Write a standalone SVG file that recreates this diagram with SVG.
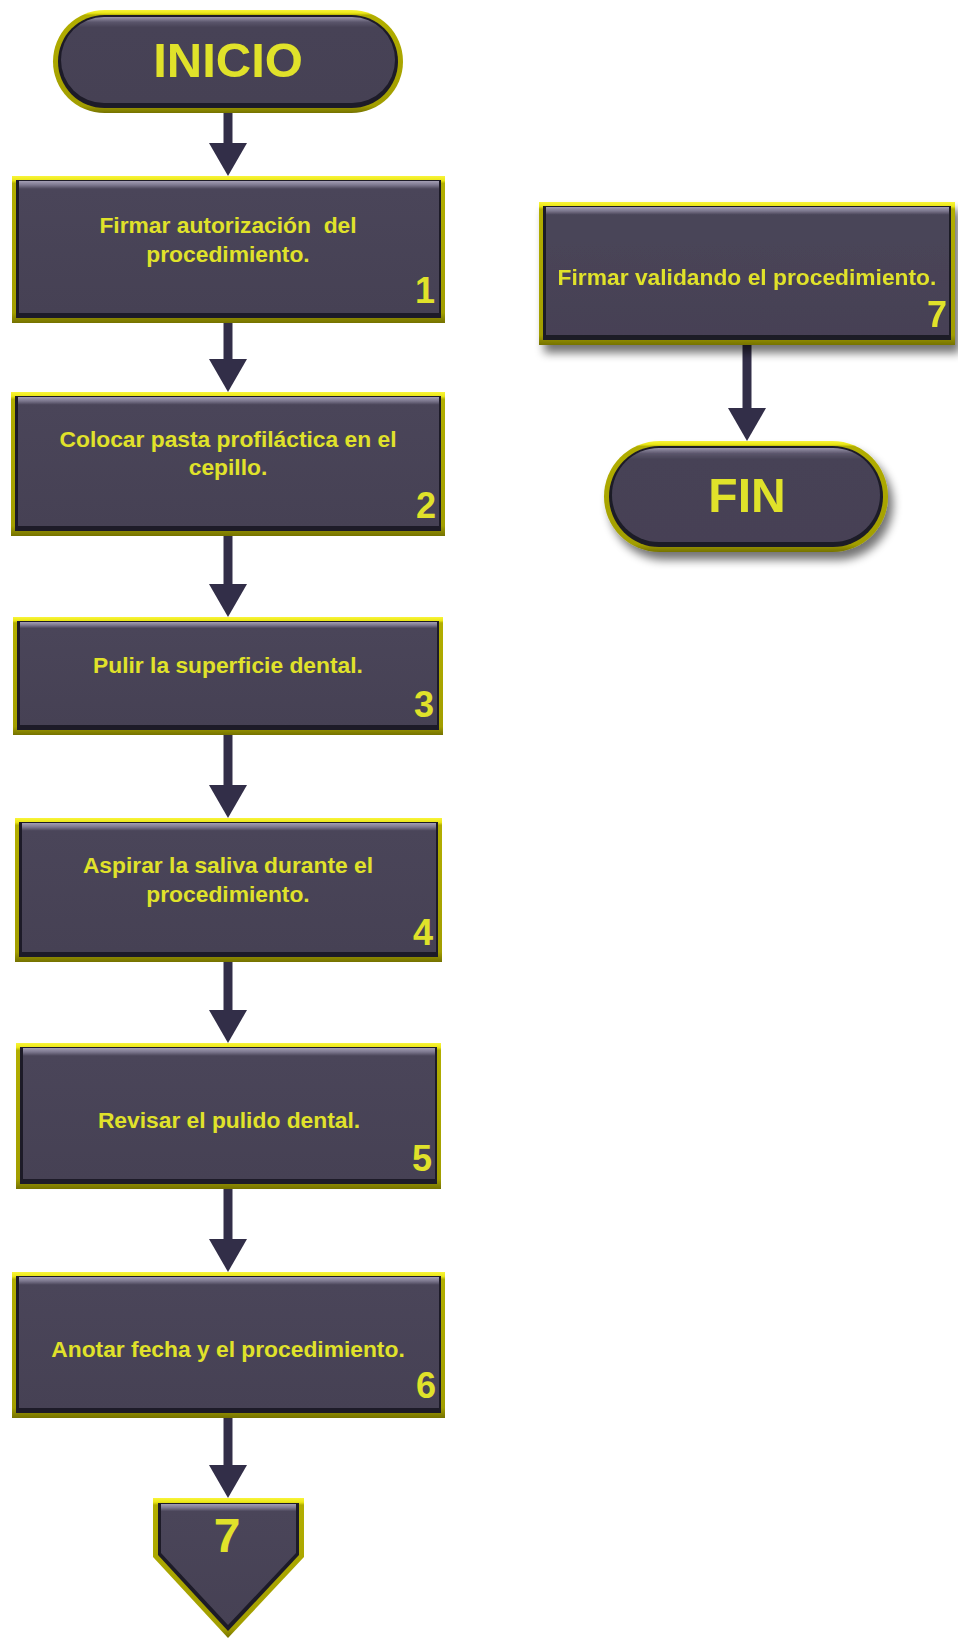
<svg xmlns="http://www.w3.org/2000/svg" width="958" height="1640" viewBox="0 0 958 1640">
  <defs>
    <!-- bevelled yellow frame -->
    <linearGradient id="frame" x1="0" y1="0" x2="0" y2="1">
      <stop offset="0" stop-color="#f8f43a"/>
      <stop offset="0.03" stop-color="#ece816"/>
      <stop offset="0.05" stop-color="#b2ae00"/>
      <stop offset="0.93" stop-color="#a29e00"/>
      <stop offset="1" stop-color="#757200"/>
    </linearGradient>
    <!-- dark face with a thin top highlight -->
    <linearGradient id="face" x1="0" y1="0" x2="0" y2="1">
      <stop offset="0" stop-color="#a39eb4"/>
      <stop offset="0.03" stop-color="#7d788f"/>
      <stop offset="0.06" stop-color="#4a4559"/>
      <stop offset="1" stop-color="#464154"/>
    </linearGradient>
    <linearGradient id="pillface" x1="0" y1="0" x2="0" y2="1">
      <stop offset="0" stop-color="#9a95ab"/>
      <stop offset="0.06" stop-color="#5a556b"/>
      <stop offset="0.12" stop-color="#474256"/>
      <stop offset="1" stop-color="#464154"/>
    </linearGradient>
    <filter id="shadow" x="-10%" y="-10%" width="125%" height="135%">
      <feGaussianBlur in="SourceAlpha" stdDeviation="5"/>
      <feOffset dx="5" dy="8" result="b"/>
      <feComponentTransfer><feFuncA type="linear" slope="0.55"/></feComponentTransfer>
      <feMerge><feMergeNode/><feMergeNode in="SourceGraphic"/></feMerge>
    </filter>
    <marker id="head" markerUnits="userSpaceOnUse" markerWidth="34" markerHeight="38" refX="0" refY="19" orient="auto" viewBox="0 0 34 38">
      <path d="M0,0 L33,19 L0,38 z" fill="#322e48"/>
    </marker>
  </defs>
  <style>
    .frame { fill: url(#frame); }
    .rim { fill: #1d1b28; }
    .face { fill: url(#face); }
    .pface { fill: url(#pillface); }
    .lbl { font-family: "Liberation Sans", Arial, sans-serif; font-weight: bold; fill: #e0e22a; text-anchor: middle; white-space: pre; }
    .step { font-size: 22.8px; }
    .num { font-size: 36px; text-anchor: end; }
    .term { font-size: 49px; }
    .conn { stroke: #322e48; stroke-width: 9; fill: none; marker-end: url(#head); }
  </style>

  <rect width="958" height="1640" fill="#ffffff"/>

  <!-- connectors -->
  <g id="connectors">
    <line class="conn" x1="228" y1="112" x2="228" y2="143"/>
    <line class="conn" x1="228" y1="322" x2="228" y2="359"/>
    <line class="conn" x1="228" y1="535" x2="228" y2="584"/>
    <line class="conn" x1="228" y1="734" x2="228" y2="785"/>
    <line class="conn" x1="228" y1="961" x2="228" y2="1010"/>
    <line class="conn" x1="228" y1="1188" x2="228" y2="1239"/>
    <line class="conn" x1="228" y1="1417" x2="228" y2="1465"/>
    <line class="conn" x1="747" y1="344" x2="747" y2="408"/>
  </g>

  <!-- start terminator -->
  <g id="inicio">
    <rect class="frame" x="53" y="10" width="350" height="103" rx="51.5"/>
    <rect class="rim" x="58" y="15" width="340" height="93" rx="46.5"/>
    <rect class="pface" x="61" y="17" width="334" height="86" rx="43"/>
    <text class="lbl term" x="228" y="77">INICIO</text>
  </g>

  <g id="step1">
    <rect class="frame" x="12" y="176" width="433" height="147"/>
    <rect class="rim" x="16" y="180" width="425" height="138"/>
    <rect class="face" x="19" y="181" width="420" height="132"/>
    <text class="lbl step" x="228" y="233">Firmar autorización  del</text>
    <text class="lbl step" x="228" y="262">procedimiento.</text>
    <text class="lbl num" x="435" y="303">1</text>
  </g>

  <g id="step2">
    <rect class="frame" x="11" y="392" width="434" height="144"/>
    <rect class="rim" x="15" y="396" width="426" height="135"/>
    <rect class="face" x="18" y="397" width="421" height="129"/>
    <text class="lbl step" x="228" y="447">Colocar pasta profiláctica en el</text>
    <text class="lbl step" x="228" y="475">cepillo.</text>
    <text class="lbl num" x="436" y="518">2</text>
  </g>

  <g id="step3">
    <rect class="frame" x="13" y="617" width="430" height="118"/>
    <rect class="rim" x="17" y="621" width="422" height="109"/>
    <rect class="face" x="20" y="622" width="417" height="103"/>
    <text class="lbl step" x="228" y="673">Pulir la superficie dental.</text>
    <text class="lbl num" x="434" y="717">3</text>
  </g>

  <g id="step4">
    <rect class="frame" x="15" y="818" width="427" height="144"/>
    <rect class="rim" x="19" y="822" width="419" height="135"/>
    <rect class="face" x="22" y="823" width="414" height="129"/>
    <text class="lbl step" x="228" y="873">Aspirar la saliva durante el</text>
    <text class="lbl step" x="228" y="902">procedimiento.</text>
    <text class="lbl num" x="433" y="945">4</text>
  </g>

  <g id="step5">
    <rect class="frame" x="16" y="1043" width="425" height="146"/>
    <rect class="rim" x="20" y="1047" width="417" height="137"/>
    <rect class="face" x="23" y="1048" width="412" height="131"/>
    <text class="lbl step" x="229" y="1128">Revisar el pulido dental.</text>
    <text class="lbl num" x="432" y="1171">5</text>
  </g>

  <g id="step6">
    <rect class="frame" x="12" y="1272" width="433" height="146"/>
    <rect class="rim" x="16" y="1276" width="425" height="137"/>
    <rect class="face" x="19" y="1277" width="420" height="131"/>
    <text class="lbl step" x="228" y="1357">Anotar fecha y el procedimiento.</text>
    <text class="lbl num" x="436" y="1398">6</text>
  </g>

  <!-- off-page connector to step 7 -->
  <g id="offpage7">
    <polygon class="frame" points="153,1498 304,1498 304,1557 228,1638 153,1557"/>
    <polygon class="rim" points="158,1503 299,1503 299,1555 228,1631 158,1555"/>
    <polygon class="face" points="161,1504 296,1504 296,1553 228,1625 161,1553"/>
    <text class="lbl term" style="font-size:48px" x="227" y="1552">7</text>
  </g>

  <g id="step7" filter="url(#shadow)">
    <rect class="frame" x="539" y="202" width="416" height="143"/>
    <rect class="rim" x="543" y="206" width="408" height="134"/>
    <rect class="face" x="546" y="207" width="403" height="128"/>
    <text class="lbl step" x="747" y="285">Firmar validando el procedimiento.</text>
    <text class="lbl num" x="947" y="327">7</text>
  </g>

  <!-- end terminator -->
  <g id="fin" filter="url(#shadow)">
    <rect class="frame" x="604" y="441" width="284" height="111" rx="55.5"/>
    <rect class="rim" x="609" y="446" width="274" height="101" rx="50.5"/>
    <rect class="pface" x="612" y="448" width="268" height="94" rx="47"/>
    <text class="lbl term" style="font-size:48px" x="747" y="512">FIN</text>
  </g>
</svg>
